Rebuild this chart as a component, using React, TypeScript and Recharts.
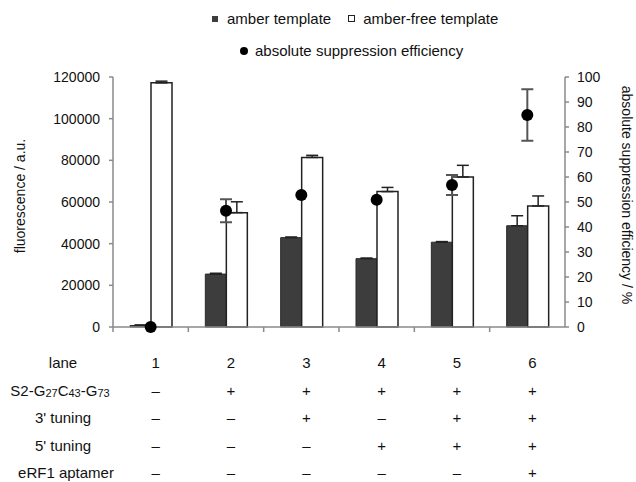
import { ComposedChart, Bar, Line, XAxis, YAxis, ErrorBar } from 'recharts';

const lanes = ['1', '2', '3', '4', '5', '6'];
const amber = [700, 25400, 42900, 32800, 40700, 48600];
const amberErr = [300, 400, 300, 300, 300, 4800];
const amberFree = [117200, 54900, 81400, 65000, 72000, 58100];
const amberFreeErr = [800, 5200, 1000, 2000, 5600, 4800];
const efficiency = [0, 46.5, 52.8, 50.9, 56.8, 84.8];
const efficiencyErr = [0, 4.6, 0, 0, 4, 10.3];

const s2Row = ['–', '+', '+', '+', '+', '+'];
const tuning3Row = ['–', '–', '+', '–', '+', '+'];
const tuning5Row = ['–', '–', '–', '+', '+', '+'];
const erf1Row = ['–', '–', '–', '–', '–', '+'];

const leftTicks = [0, 20000, 40000, 60000, 80000, 100000, 120000];
const rightTicks = [0, 10, 20, 30, 40, 50, 60, 70, 80, 90, 100];

const W = 636;
const H = 482;
const LEFT_W = 113;
const RIGHT_W = 71;
const TOP = 77;
const XAXIS_H = 155;
const BAND = (W - LEFT_W - RIGHT_W) / lanes.length;
const FONT = "'Liberation Sans', Arial, sans-serif";
const AXIS_GREY = '#8a8a8a';

const data = lanes.map((lane, i) => ({
  lane,
  amber: amber[i],
  amberErr: [0, amberErr[i]],
  amberFree: amberFree[i],
  amberFreeErr: [0, amberFreeErr[i]],
  eff: efficiency[i],
  effErr: efficiencyErr[i],
}));

const rowOffsets = [36, 64, 91, 119, 146];

const LaneTick = (props: any) => {
  const { x, y, payload } = props;
  const i = payload.index;
  const cx = x + 5;
  const cells = [lanes[i], s2Row[i], tuning3Row[i], tuning5Row[i], erf1Row[i]];
  return (
    <g>
      {i === 0 && <line x1={x - BAND / 2} x2={x - BAND / 2} y1={y} y2={y + 5} stroke={AXIS_GREY} strokeWidth={1.5} />}
      {i < lanes.length - 1 && <line x1={x + BAND / 2} x2={x + BAND / 2} y1={y} y2={y + 5} stroke={AXIS_GREY} strokeWidth={1.5} />}
      {cells.map((c, r) => (
        <text key={r} x={cx} y={y + rowOffsets[r] + 5} textAnchor="middle" fontSize={15} fill="#111" fontFamily={FONT}>
          {c}
        </text>
      ))}
      {i === 0 && (
        <g fontSize={15} fill="#111" fontFamily={FONT} textAnchor="middle">
          <text x={63} y={y + rowOffsets[0] + 5}>lane</text>
          <text x={60} y={y + rowOffsets[1] + 5}>
            S2-G<tspan fontSize={11} dy={1}>27</tspan>
            <tspan dy={-1}>C</tspan>
            <tspan fontSize={11} dy={1}>43</tspan>
            <tspan dy={-1}>-G</tspan>
            <tspan fontSize={11} dy={1}>73</tspan>
          </text>
          <text x={63} y={y + rowOffsets[2] + 5}>3' tuning</text>
          <text x={63} y={y + rowOffsets[3] + 5}>5' tuning</text>
          <text x={66} y={y + rowOffsets[4] + 5}>eRF1 aptamer</text>
        </g>
      )}
    </g>
  );
};

export default function App() {
  return (
    <div style={{ position: 'absolute', left: 0, top: 0, width: W, height: H, background: '#fff', fontFamily: FONT }}>
      {/* legend, two rows like the original */}
      <div style={{ position: 'absolute', top: 10, left: 212, fontSize: 15, color: '#111', display: 'flex', alignItems: 'center', whiteSpace: 'nowrap' }}>
        <span style={{ width: 6, height: 6, background: '#3d3d3d', display: 'inline-block', marginRight: 9 }} />
        <span>amber template</span>
        <span style={{ width: 5, height: 5, border: '1px solid #222', display: 'inline-block', marginLeft: 17, marginRight: 8 }} />
        <span>amber-free template</span>
      </div>
      <div style={{ position: 'absolute', top: 42, left: 240, fontSize: 15, color: '#111', display: 'flex', alignItems: 'center', whiteSpace: 'nowrap' }}>
        <span style={{ width: 8, height: 8, borderRadius: 4, background: '#000', display: 'inline-block', marginRight: 7 }} />
        <span>absolute suppression efficiency</span>
      </div>

      <ComposedChart width={W} height={H} data={data} margin={{ top: TOP, right: 0, left: 0, bottom: 0 }} barGap={0} barSize={21}>
        <XAxis
          dataKey="lane"
          height={XAXIS_H}
          axisLine={{ stroke: AXIS_GREY, strokeWidth: 1.5 }}
          tickLine={false}
          tickSize={0}
          tickMargin={0}
          tick={<LaneTick />}
          interval={0}
        />
        <YAxis
          yAxisId="left"
          width={LEFT_W}
          domain={[0, 120000]}
          ticks={leftTicks}
          interval={0}
          axisLine={{ stroke: AXIS_GREY, strokeWidth: 1.5 }}
          tickLine={{ stroke: AXIS_GREY, strokeWidth: 1.5 }}
          tickSize={4}
          tickMargin={9}
          tick={{ fontSize: 14, fill: '#111', fontFamily: FONT }}
          label={{
            content: () => (
              <text x={20} y={196} transform="rotate(-90 20 196)" textAnchor="middle" dominantBaseline="central" fontSize={14} fill="#111" fontFamily={FONT}>
                fluorescence / a.u.
              </text>
            ),
          }}
        />
        <YAxis
          yAxisId="right"
          orientation="right"
          width={RIGHT_W}
          domain={[0, 100]}
          ticks={rightTicks}
          interval={0}
          axisLine={{ stroke: AXIS_GREY, strokeWidth: 1.5 }}
          tickLine={{ stroke: AXIS_GREY, strokeWidth: 1.5 }}
          tickSize={4}
          tickMargin={8}
          tick={{ fontSize: 14, fill: '#111', fontFamily: FONT }}
          label={{
            content: () => (
              <text x={627} y={195} transform="rotate(90 627 195)" textAnchor="middle" dominantBaseline="central" fontSize={14} fill="#111" fontFamily={FONT}>
                absolute suppression efficiency / %
              </text>
            ),
          }}
        />
        <Bar yAxisId="left" dataKey="amber" fill="#3d3d3d" stroke="#2a2a2a" strokeWidth={1} isAnimationActive={false}>
          <ErrorBar dataKey="amberErr" width={6} stroke="#222" strokeWidth={1.5} direction="y" />
        </Bar>
        <Bar yAxisId="left" dataKey="amberFree" fill="#fff" stroke="#222" strokeWidth={1.5} isAnimationActive={false}>
          <ErrorBar dataKey="amberFreeErr" width={6} stroke="#222" strokeWidth={1.5} direction="y" />
        </Bar>
        <Line
          yAxisId="right"
          dataKey="eff"
          stroke="none"
          strokeWidth={0}
          dot={{ r: 6, fill: '#000', stroke: '#000', strokeWidth: 0 }}
          activeDot={false}
          isAnimationActive={false}
        >
          <ErrorBar dataKey="effErr" width={6} stroke="#555" strokeWidth={2} direction="y" />
        </Line>
      </ComposedChart>
    </div>
  );
}
